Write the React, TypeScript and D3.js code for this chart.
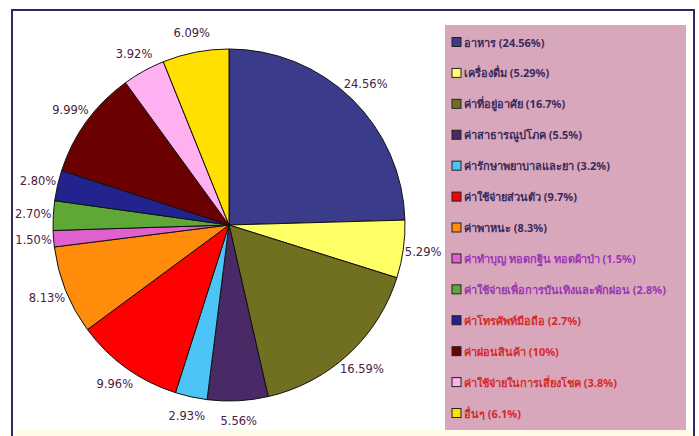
import React from "react";
import * as d3 from "d3";

const categories = [
  "อาหาร",
  "เครื่องดื่ม",
  "ค่าที่อยู่อาศัย",
  "ค่าสาธารณูปโภค",
  "ค่ารักษาพยาบาลและยา",
  "ค่าใช้จ่ายส่วนตัว",
  "ค่าพาหนะ",
  "ค่าทำบุญ ทอดกฐิน ทอดผ้าป่า",
  "ค่าใช้จ่ายเพื่อการบันเทิงและพักผ่อน",
  "ค่าโทรศัพท์มือถือ",
  "ค่าผ่อนสินค้า",
  "ค่าใช้จ่ายในการเสี่ยงโชค",
  "อื่นๆ",
];
const sliceValues = [24.56, 5.29, 16.59, 5.56, 2.93, 9.96, 8.13, 1.5, 2.7, 2.8, 9.99, 3.92, 6.09];
const sliceLabels = ["24.56%", "5.29%", "16.59%", "5.56%", "2.93%", "9.96%", "8.13%", "1.50%", "2.70%", "2.80%", "9.99%", "3.92%", "6.09%"];
const legendLabels = [
  "อาหาร (24.56%)",
  "เครื่องดื่ม (5.29%)",
  "ค่าที่อยู่อาศัย  (16.7%)",
  "ค่าสาธารณูปโภค (5.5%)",
  "ค่ารักษาพยาบาลและยา  (3.2%)",
  "ค่าใช้จ่ายส่วนตัว  (9.7%)",
  "ค่าพาหนะ  (8.3%)",
  "ค่าทำบุญ  ทอดกฐิน  ทอดผ้าป่า  (1.5%)",
  "ค่าใช้จ่ายเพื่อการบันเทิงและพักผ่อน  (2.8%)",
  "ค่าโทรศัพท์มือถือ (2.7%)",
  "ค่าผ่อนสินค้า (10%)",
  "ค่าใช้จ่ายในการเสี่ยงโชค (3.8%)",
  "อื่นๆ (6.1%)",
];
const colors = [
  "#3b3b8c", "#ffff66", "#707020", "#4a2a66", "#4cc4f5", "#ff0000", "#ff8c0a",
  "#e060d0", "#5fa838", "#23238f", "#6b0000", "#ffb0f0", "#ffe000",
];
const legendTextColors = [
  "#3b2a5c", "#3b2a5c", "#3b2a5c", "#3b2a5c", "#3b2a5c", "#3b2a5c", "#3b2a5c",
  "#9b35b5", "#9b35b5", "#d42a2a", "#d42a2a", "#d42a2a", "#d42a2a",
];

export default function App() {
  const W = 699, H = 436;
  const cx = 229, cy = 225, r = 176;
  const pie = d3.pie<number>().sort(null).value((d) => d);
  const arcs = pie(sliceValues);
  const arc = d3.arc<d3.PieArcDatum<number>>().innerRadius(0).outerRadius(r);
  const labelArc = d3.arc<d3.PieArcDatum<number>>().innerRadius(196).outerRadius(196);
  const legendY = d3.scaleLinear().domain([0, categories.length - 1]).range([42, 413]);
  const font = "Tahoma, 'Noto Sans', 'DejaVu Sans', sans-serif";
  const labelFont = "Verdana, 'DejaVu Sans', sans-serif";
  return (
    <svg width={W} height={H} style={{ position: "absolute", left: 0, top: 0, background: "#fff" }}>
      <rect x={0} y={0} width={W} height={H} fill="#ffffff" />
      <path d={`M12,${H} L12,10 L694,10 L694,${H}`} fill="none" stroke="#2a2a6a" strokeWidth={2} />
      <g transform={`translate(${cx},${cy})`}>
        {arcs.map((a, i) => (
          <path key={i} d={arc(a) || ""} fill={colors[i]} stroke="#111" strokeWidth={1} />
        ))}
        {arcs.map((a, i) => {
          const [x, y] = labelArc.centroid(a);
          return (
            <text key={i} x={x} y={y} textAnchor="middle" dominantBaseline="central"
              fontFamily={labelFont} fontSize={11.5} fill="#4a2040">
              {sliceLabels[i]}
            </text>
          );
        })}
      </g>
      <rect x={445} y={25} width={241} height={405} fill="#d8a7bb" />
      <rect x={14} y={430} width={679} height={6} fill="#fffbe6" />
      {categories.map((c, i) => (
        <g key={c} transform={`translate(452,${legendY(i)})`}>
          <rect x={0} y={-4.5} width={9} height={9} fill={colors[i]} stroke="#222" strokeWidth={1} />
          <text x={12} y={0} dominantBaseline="central" fontFamily={font} fontSize={11}
            fontWeight="bold" fill={legendTextColors[i]}>
            {legendLabels[i]}
          </text>
        </g>
      ))}
    </svg>
  );
}
